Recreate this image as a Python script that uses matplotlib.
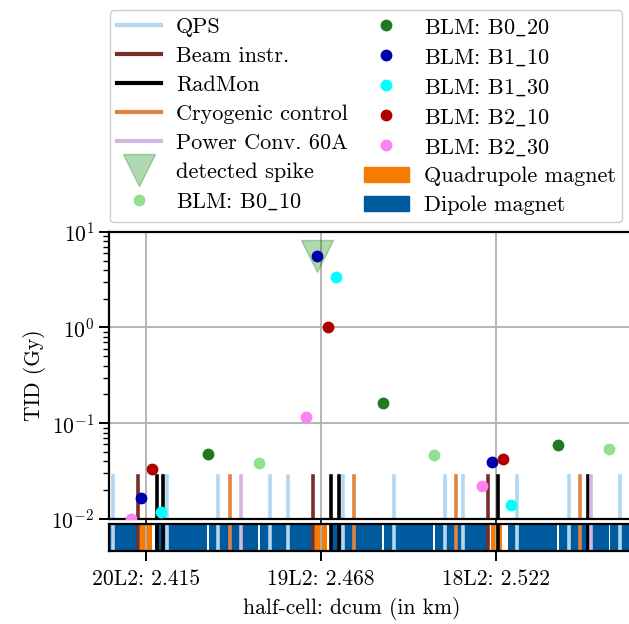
import matplotlib
matplotlib.use('Agg')
import matplotlib.pyplot as plt
from matplotlib.lines import Line2D
from matplotlib.patches import Patch

plt.rcParams['font.family'] = ['cmr10', 'DejaVu Serif']
plt.rcParams['mathtext.fontset'] = 'cm'
plt.rcParams['axes.formatter.use_mathtext'] = True
plt.rcParams['font.size'] = 15.5

# half-cell positions (dcum in km)
tick_pos = [2.4150, 2.46845, 2.5219]
tick_labels = ['20L2: 2.415', '19L2: 2.468', '18L2: 2.522']

# equipment positions (km)
qps_pos = [2.4049, 2.4215, 2.4372, 2.4528, 2.4583, 2.4751, 2.4908, 2.5063,
           2.5117, 2.5284, 2.5441, 2.5597]
beam_instr_pos = [2.4125, 2.4659, 2.5194]
radmon_pos = [2.4184, 2.4203, 2.4714, 2.4741, 2.5226, 2.5499]
cryo_pos = [2.4407, 2.4786, 2.5097, 2.5476]
pc60_pos = [2.4440, 2.5509]

# BLM readings: positions (km) and TID (Gy)
blm_b0_10_x = [2.4497, 2.5030, 2.5564]
blm_b0_10_y = [0.0385, 0.0467, 0.0543]
blm_b0_20_x = [2.4339, 2.4874, 2.5408]
blm_b0_20_y = [0.048, 0.163, 0.0598]
blm_b1_10_x = [2.4136, 2.4672, 2.5206]
blm_b1_10_y = [0.0165, 5.6, 0.039]
blm_b1_30_x = [2.4196, 2.4731, 2.5264]
blm_b1_30_y = [0.0119, 3.39, 0.0139]
blm_b2_10_x = [2.4170, 2.4705, 2.5241]
blm_b2_10_y = [0.033, 1.02, 0.042]
blm_b2_30_x = [2.4105, 2.4639, 2.5175]
blm_b2_30_y = [0.0101, 0.116, 0.0223]

spike_x = [2.4672]
spike_y = [5.6]

# magnet layout (start, end) in km
dipoles = [(2.4011, 2.4125), (2.4178, 2.4337), (2.4342, 2.4493), (2.4498, 2.4659),
           (2.4712, 2.4871), (2.4876, 2.5027), (2.5033, 2.5193),
           (2.5254, 2.5406), (2.5410, 2.5562), (2.5567, 2.5841)]
quads = [(2.4134, 2.4168), (2.4668, 2.4703), (2.5203, 2.5236)]

c_qps = '#b3d7f0'
c_bi = '#7a2c27'
c_rad = 'black'
c_cryo = '#e08342'
c_pc = '#d8b5e0'
c_quad = '#f57c00'
c_dip = '#005a9e'
blm_styles = [
    (r'BLM: B0$\_$10', blm_b0_10_x, blm_b0_10_y, '#90e090'),
    (r'BLM: B0$\_$20', blm_b0_20_x, blm_b0_20_y, '#1f7a1f'),
    (r'BLM: B1$\_$10', blm_b1_10_x, blm_b1_10_y, '#0000aa'),
    (r'BLM: B1$\_$30', blm_b1_30_x, blm_b1_30_y, '#00ffff'),
    (r'BLM: B2$\_$10', blm_b2_10_x, blm_b2_10_y, '#b00000'),
    (r'BLM: B2$\_$30', blm_b2_30_x, blm_b2_30_y, '#ff80f0'),
]
equip = [(qps_pos, c_qps, 'QPS'), (beam_instr_pos, c_bi, 'Beam instr.'),
         (radmon_pos, c_rad, 'RadMon'), (cryo_pos, c_cryo, 'Cryogenic control'),
         (pc60_pos, c_pc, 'Power Conv. 60A')]

W, H = 629, 624
fig = plt.figure(figsize=(W / 100, H / 100), dpi=100)
left_px, right_px = 109, 641.6
ax = fig.add_axes([left_px / W, 1 - 519 / H, (right_px - left_px) / W, (519 - 231.7) / H])
axm = fig.add_axes([left_px / W, 1 - 550.5 / H, (right_px - left_px) / W, 26.5 / H], sharex=ax)

px_per_km = 175.2 / 0.05345
xmin = tick_pos[0] - (145.7 - left_px) / px_per_km
xmax = tick_pos[0] + (right_px - 145.7) / px_per_km

lw = 2.6
for pos, col, lab in equip:
    for x in pos:
        ax.axvline(x, ymin=0, ymax=0.15, color=col, lw=lw, zorder=2)

for lab, xs, ys, col in blm_styles:
    ax.plot(xs, ys, 'o', color=col, ms=7.5, ls='none', zorder=4)

ax.plot(spike_x, spike_y, 'v', color='green', alpha=0.3, ms=23, ls='none', zorder=3)

ax.set_yscale('log')
ax.set_ylim(1e-2, 1e1)
ax.set_xlim(xmin, xmax)
ax.set_ylabel('TID (Gy)')
ax.grid(True, which='major', color='#b0b0b0', lw=1.3, zorder=0)
ax.set_axisbelow(True)
ax.tick_params(axis='x', labelbottom=False, length=3.5, width=1.2)
ax.tick_params(axis='y', which='major', length=7, width=1.4)
ax.tick_params(axis='y', which='minor', length=4, width=1.0)
for s in ax.spines.values():
    s.set_linewidth(1.6)

# magnet strip
for a, b in dipoles:
    axm.axvspan(a, b, color=c_dip, lw=0, zorder=1)
for a, b in quads:
    axm.axvspan(a, b, color=c_quad, lw=0, zorder=1)
for pos, col, lab in equip:
    for x in pos:
        axm.axvline(x, color=col, lw=lw, zorder=2)
axm.set_ylim(0, 1)
axm.set_yticks([])
axm.set_xticks(tick_pos)
axm.set_xticklabels(tick_labels)
axm.set_xlim(xmin, xmax)
axm.grid(True, axis='x', color='#b0b0b0', lw=1.3, zorder=3)
axm.tick_params(axis='x', length=7, width=1.4, pad=7)
for s in axm.spines.values():
    s.set_linewidth(1.6)
axm.set_xlabel('half-cell: dcum (in km)')
axm.xaxis.set_label_coords((351.7 - left_px) / (right_px - left_px), -1.75)

handles = [Line2D([], [], color=col, lw=3) for pos, col, lab in equip]
labels = [lab for pos, col, lab in equip]
handles.append(Line2D([], [], marker='v', color='green', alpha=0.3, ms=23, ls='none'))
labels.append('detected spike')
for lab, xs, ys, col in blm_styles:
    handles.append(Line2D([], [], marker='o', color=col, ms=7.5, ls='none'))
    labels.append(lab)
handles.append(Patch(color=c_quad))
labels.append('Quadrupole magnet')
handles.append(Patch(color=c_dip))
labels.append('Dipole magnet')

fig.legend(handles, labels, ncol=2, loc='lower left', fontsize=16,
           bbox_to_anchor=(110 / W, 1 - 222 / H), borderaxespad=0,
           borderpad=0.3, handlelength=2.0, handletextpad=0.68, columnspacing=0.72,
           labelspacing=0.42, fancybox=True, framealpha=1, edgecolor='#cccccc')

fig.savefig('out.png', dpi=100)
